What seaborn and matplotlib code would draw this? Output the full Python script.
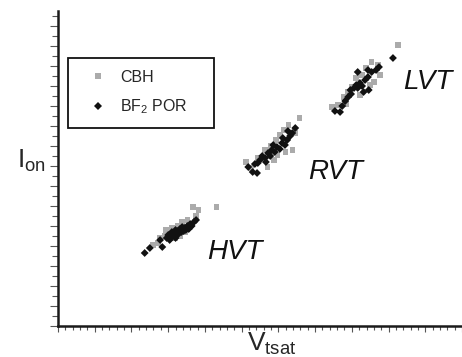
import matplotlib
matplotlib.use("Agg")
import matplotlib.pyplot as plt
import seaborn as sns
import pandas as pd
from matplotlib.ticker import MultipleLocator, NullFormatter

sns.set_theme(style="white")
plt.rcParams["font.family"] = ["Liberation Sans", "DejaVu Sans"]
plt.rcParams["mathtext.default"] = "regular"

# CBH devices (grey squares): HVT, RVT and LVT groups
cbh_x = [12.9, 13.6, 14.6, 15.2, 15.5, 16.3, 16.9, 17.6, 18.4, 19.1, 18.8, 21.6, 15.9, 14.7, 17.3, 18.0, 16.6, 13.9,
         25.6, 26.3, 28.5, 27.2, 28.2, 28.9, 29.7, 30.2, 30.8, 31.4, 31.9, 31.0, 29.4, 29.9, 32.9, 32.3,
         37.3, 38.1, 38.9, 39.5, 40.0, 40.6, 41.4, 41.9, 42.7, 43.6, 43.8, 43.0, 41.1, 42.5, 46.3, 39.2]
cbh_y = [8.1, 8.3, 9.0, 9.3, 9.8, 10.0, 10.4, 10.6, 11.9, 11.6, 11.0, 11.9, 8.8, 9.6, 9.4, 10.2, 9.0, 8.8,
         16.4, 15.8, 15.9, 16.8, 17.6, 18.0, 18.6, 19.1, 19.6, 20.1, 17.6, 17.4, 16.6, 17.1, 20.8, 19.3,
         21.9, 22.1, 22.9, 23.4, 23.9, 24.8, 25.1, 25.8, 26.4, 26.1, 25.1, 24.4, 23.1, 24.1, 28.1, 22.2]

# BF2 POR devices (black diamonds)
bf2_x = [11.8, 12.5, 13.9, 14.2, 14.8, 15.0, 15.3, 15.5, 15.6, 15.8, 16.0, 16.1, 16.3, 16.4, 16.6, 16.8, 16.9,
         17.1, 17.2, 17.4, 17.6, 17.8, 18.0, 18.2, 18.5, 18.8, 15.2, 16.0,
         26.5, 27.1, 25.9, 26.8, 27.5, 27.8, 28.2, 28.6, 28.9, 29.1, 29.5, 29.8, 30.2, 30.5, 30.9, 31.2, 31.6,
         31.9, 32.3, 27.2, 28.3, 29.3, 30.6, 31.3,
         37.7, 38.4, 38.7, 39.1, 39.5, 39.9, 40.3, 40.6, 40.8, 41.1, 41.4, 41.8, 42.2, 42.7, 43.3, 43.7, 40.8,
         42.2, 39.8, 42.3, 45.6, 41.6]
bf2_y = [7.3, 7.8, 8.6, 7.9, 8.8, 9.1, 8.9, 9.4, 9.0, 9.3, 9.6, 9.1, 9.5, 9.2, 9.7, 9.4, 9.9,
         9.5, 9.8, 9.6, 10.0, 9.7, 10.2, 10.0, 10.4, 10.6, 8.6, 8.8,
         15.4, 15.3, 15.9, 16.2, 16.6, 17.0, 16.8, 17.3, 17.0, 17.6, 17.4, 17.9, 17.7, 18.3, 18.1, 18.6, 19.0,
         19.3, 19.8, 16.3, 16.4, 18.1, 18.8, 19.5,
         21.5, 21.4, 22.0, 22.5, 22.9, 23.2, 23.8, 24.1, 23.8, 24.3, 24.0, 24.6, 24.9, 25.4, 25.6, 25.9, 25.4,
         25.6, 23.6, 23.6, 26.8, 23.4]

groups = ["HVT", "RVT", "LVT"]
group_x = [24.1, 37.8, 50.4]
group_y = [7.4, 15.4, 24.4]

series_names = ["CBH", "BF$_2$ POR"]

df = pd.concat([
    pd.DataFrame({"vtsat": cbh_x, "ion": cbh_y, "device": series_names[0]}),
    pd.DataFrame({"vtsat": bf2_x, "ion": bf2_y, "device": series_names[1]}),
], ignore_index=True)

fig = plt.figure(figsize=(4.62, 3.57), dpi=100)
ax = fig.add_axes([58 / 462, 31 / 357, 404 / 462, 315 / 357])

sns.scatterplot(
    data=df, x="vtsat", y="ion", hue="device", style="device",
    palette={series_names[0]: "#ababab", series_names[1]: "#111111"},
    markers={series_names[0]: "s", series_names[1]: "D"},
    s=16, linewidth=0, ax=ax,
)
# slightly smaller black diamonds
coll = ax.collections
if len(coll) >= 2:
    coll[1].set_sizes([11])

for name, gx, gy in zip(groups, group_x, group_y):
    ax.text(gx, gy, name, fontsize=20, fontstyle="italic", ha="center", va="center", color="#111111")

ax.set_xlim(0, 55)
ax.set_ylim(0, 31.5)

for side in ("top", "right"):
    ax.spines[side].set_visible(False)
for side in ("left", "bottom"):
    ax.spines[side].set_linewidth(1.8)
    ax.spines[side].set_color("#1a1a1a")

ax.xaxis.set_major_locator(MultipleLocator(5))
ax.xaxis.set_minor_locator(MultipleLocator(1))
ax.yaxis.set_major_locator(MultipleLocator(2))
ax.yaxis.set_minor_locator(MultipleLocator(1))
ax.xaxis.set_major_formatter(NullFormatter())
ax.yaxis.set_major_formatter(NullFormatter())
ax.tick_params(axis="both", which="both", direction="out", color="#555555", width=0.8)
ax.tick_params(axis="y", which="major", length=6, left=True)
ax.tick_params(axis="y", which="minor", length=4, left=True)
ax.tick_params(axis="x", which="major", length=4, bottom=True)
ax.tick_params(axis="x", which="minor", length=3, bottom=True)

ax.set_xlabel("V$_{tsat}$", fontsize=19, va="top")
ax.xaxis.set_label_coords(0.53, -0.015)
ax.set_ylabel("I$_{on}$", fontsize=19, rotation=0, ha="right", va="center")
ax.yaxis.set_label_coords(-0.03, 0.524)

leg = ax.legend(
    loc="upper left", bbox_to_anchor=(0.025, 0.851, 0.361, 0.0), mode="expand",
    borderaxespad=0.0, frameon=True, fancybox=False, fontsize=11.5,
    borderpad=0.75, labelspacing=0.8, handlelength=2.3, handletextpad=0.2,
    title=None,
)
leg.get_frame().set_edgecolor("#111111")
leg.get_frame().set_linewidth(1.3)
leg.get_frame().set_alpha(1)

fig.savefig("out.png", dpi=100)
